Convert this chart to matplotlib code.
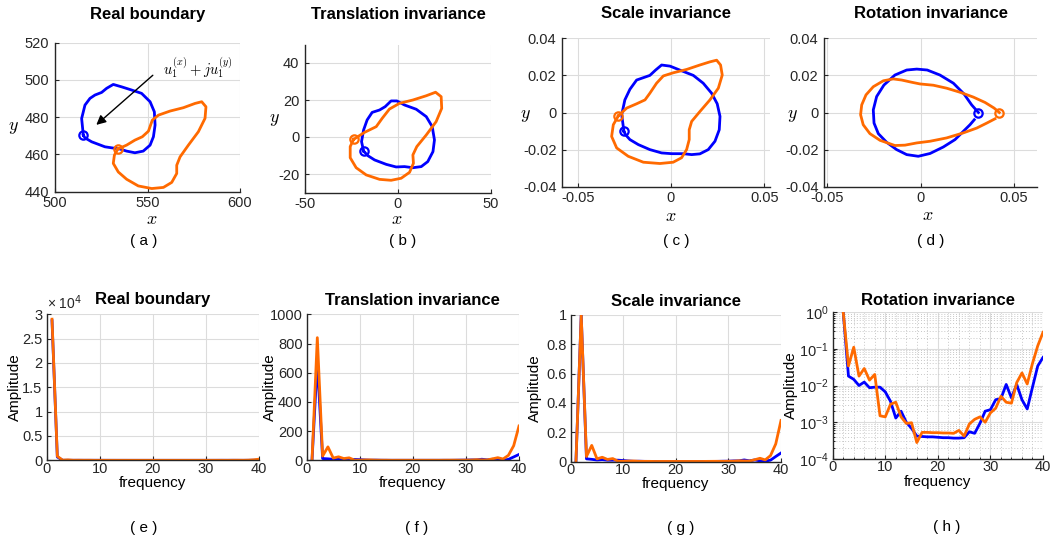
"""
Boundary contours and their Fourier spectra under translation, scale and rotation normalisation
"""

import numpy as np
import matplotlib
matplotlib.use('Agg')
import matplotlib.pyplot as plt
from matplotlib.ticker import FuncFormatter, MultipleLocator, LogLocator, NullFormatter

plt.rcParams['font.family'] = ['Liberation Sans', 'DejaVu Sans']
plt.rcParams['mathtext.fontset'] = 'cm'
plt.rcParams['axes.unicode_minus'] = False

BLUE = '#0000ff'
ORANGE = '#ff6a00'

# ---- contours: real boundary -------------------------------------------------
blue_a_x = [515.3, 514.4, 516.2, 518.9, 521.6, 525.2, 527.9, 531.5, 536.0, 541.4, 546.8, 551.4,
            553.7, 554.1, 553.2, 551.4, 547.7, 543.2, 538.7, 535.1, 527.0, 519.8, 516.2]
blue_a_y = [470.4, 479.3, 486.5, 490.1, 491.9, 493.3, 495.5, 497.6, 496.3, 494.6, 492.8, 488.3,
            482.9, 475.8, 469.5, 465.0, 461.8, 460.9, 461.8, 462.9, 464.1, 466.8, 468.9]
orange_a_x = [533.9, 538.7, 543.2, 547.2, 550.5, 552.6, 555.9, 562.2, 569.4, 575.7, 579.3, 581.6, 581.1,
              577.5, 572.1, 567.6, 565.8, 565.8, 563.1, 558.6, 552.3, 545.0, 538.7, 534.2, 531.5, 532.1]
orange_a_y = [462.9, 465.0, 467.7, 469.5, 472.5, 478.4, 481.1, 483.3, 485.1, 487.4, 488.3, 485.6, 479.4,
              472.2, 465.0, 458.7, 454.2, 449.8, 445.0, 442.3, 441.7, 443.1, 446.7, 450.6, 455.2, 459.6]

# ---- contours: translation invariant ------------------------------------------
blue_b_x = [-18.5, -19.6, -18.5, -16.6, -13.9, -9.9, -6.9, -3.7, -0.6, 3.5, 9.8, 15.2,
            18.4, 19.6, 18.8, 16.0, 12.5, 8.0, 3.5, -1.0, -6.3, -12.6, -16.2]
blue_b_y = [-7.6, -2.5, 3.8, 9.2, 13.3, 14.6, 16.4, 19.5, 19.5, 17.3, 15.0, 11.0,
            5.6, -1.6, -7.9, -13.3, -16.0, -16.6, -16.0, -16.2, -14.8, -12.4, -10.1]
orange_b_x = [-23.9, -18.0, -11.7, -8.5, -4.6, 0.8, 8.0, 15.2, 20.2, 23.2, 23.5, 20.5,
              15.2, 10.1, 8.0, 8.3, 6.2, 1.7, -3.7, -9.9, -17.1, -22.5, -25.7, -25.7]
orange_b_y = [-1.3, 2.5, 5.6, 10.1, 15.1, 18.2, 20.0, 22.3, 24.2, 21.8, 15.5, 8.3,
              1.1, -5.2, -9.7, -14.2, -19.1, -22.3, -23.4, -22.9, -20.5, -16.6, -11.2, -5.2]

# ---- contours: scale invariant --------------------------------------------------
blue_c_x = [-0.0252, -0.0264, -0.0247, -0.0220, -0.0184, -0.0113, -0.0082, -0.0050, -0.0005,
            0.0057, 0.0120, 0.0173, 0.0218, 0.0248, 0.0263, 0.0259, 0.0236, 0.0200, 0.0155,
            0.0111, 0.0066, 0.0004, -0.0050, -0.0113, -0.0175, -0.0220, -0.0243]
blue_c_y = [-0.0102, -0.0012, 0.0068, 0.0125, 0.0175, 0.0200, 0.0229, 0.0256, 0.0250,
            0.0225, 0.0200, 0.0158, 0.0104, 0.0047, -0.0021, -0.0093, -0.0155, -0.0200, -0.0223,
            -0.0227, -0.0222, -0.0222, -0.0218, -0.0200, -0.0173, -0.0146, -0.0120]
orange_c_x = [-0.0282, -0.0237, -0.0184, -0.0139, -0.0113, -0.0077, -0.0041, 0.0012, 0.0084, 0.0155,
              0.0209, 0.0245, 0.0266, 0.0275, 0.0254, 0.0209, 0.0155, 0.0111, 0.0098, 0.0098,
              0.0084, 0.0057, 0.0012, -0.0059, -0.0148, -0.0229, -0.0291, -0.0318, -0.0309]
orange_c_y = [-0.0018, 0.0024, 0.0047, 0.0068, 0.0104, 0.0158, 0.0197, 0.0214, 0.0232, 0.0256,
              0.0273, 0.0282, 0.0256, 0.0202, 0.0131, 0.0068, 0.0005, -0.0048, -0.0093, -0.0146,
              -0.0200, -0.0244, -0.0268, -0.0275, -0.0268, -0.0236, -0.0191, -0.0129, -0.0066]

# ---- contours: rotation invariant (open at the start point) -------------------
blue_d_x = [0.0309, 0.0273, 0.0232, 0.0175, 0.0103, 0.0035, -0.0021, -0.0075, -0.0138, -0.0197,
            -0.0236, -0.0254, -0.0250, -0.0227, -0.0182, -0.0129, -0.0075, -0.0013, 0.0050,
            0.0121, 0.0184, 0.0228, 0.0264, 0.0287]
blue_d_y = [0.0, 0.0041, 0.0100, 0.0158, 0.0202, 0.0229, 0.0234, 0.0229, 0.0202, 0.0148,
            0.0086, 0.0014, -0.0057, -0.0114, -0.0161, -0.0200, -0.0227, -0.0236, -0.0221,
            -0.0186, -0.0146, -0.0102, -0.0066, -0.0039]
orange_d_x = [0.0421, 0.0393, 0.0345, 0.0282, 0.0211, 0.0139, 0.0068, -0.0004, -0.0048, -0.0102,
              -0.0147, -0.0200, -0.0254, -0.0293, -0.0316, -0.0322, -0.0308, -0.0272, -0.0218,
              -0.0138, -0.0084, -0.0021, 0.0050, 0.0139, 0.0228, 0.0300, 0.0354, 0.0398]
orange_d_y = [0.0, 0.0024, 0.0054, 0.0083, 0.0109, 0.0131, 0.0147, 0.0154, 0.0163, 0.0175,
              0.0181, 0.0171, 0.0139, 0.0095, 0.0041, -0.0012, -0.0066, -0.0114, -0.0150,
              -0.0178, -0.0176, -0.0164, -0.0155, -0.0137, -0.0110, -0.0084, -0.0057, -0.0034]

# ---- Fourier amplitudes, frequency 1..40 ----------------------------------------
freq = np.arange(1, 41)
blue_e = [28700, 680, 12, 10, 7, 8.4, 6, 6, 6, 4.5, 2.5, 0.9, 1.4, 0.7, 0.5, 0.3, 0.3, 0.3, 0.3, 0.3,
          0.3, 0.3, 0.3, 0.3, 0.3, 0.4, 0.3, 0.6, 1.4, 1.5, 2.8, 3, 7.3, 3.1, 7.3, 2.8, 1.6, 6.1, 23, 40]
orange_e = [29000, 840, 29, 92, 15, 24, 12, 17, 1.3, 1.2, 2.6, 2.9, 1.2, 0.8, 0.8, 0.2, 0.4, 0.4, 0.4, 0.4,
            0.4, 0.4, 0.4, 0.5, 0.4, 0.8, 1.0, 1.2, 0.8, 1.5, 2.0, 4.3, 2.9, 2.8, 10, 18, 9, 34, 100, 235]
blue_f = [0, 680, 12, 10, 7, 8.4, 6, 6, 6, 4.5, 2.5, 0.9, 1.4, 0.7, 0.5, 0.3, 0.3, 0.3, 0.3, 0.3,
          0.3, 0.3, 0.3, 0.3, 0.3, 0.4, 0.3, 0.6, 1.4, 1.5, 2.8, 3, 7.3, 3.1, 7.3, 2.8, 1.6, 6.1, 23, 40]
orange_f = [0, 840, 29, 92, 15, 24, 12, 17, 1.3, 1.2, 2.6, 2.9, 1.2, 0.8, 0.8, 0.2, 0.4, 0.4, 0.4, 0.4,
            0.4, 0.4, 0.4, 0.5, 0.4, 0.8, 1.0, 1.2, 0.8, 1.5, 2.0, 4.3, 2.9, 2.8, 10, 18, 9, 34, 100, 235]
# normalised amplitudes (same for scale and rotation invariant descriptors)
blue_g = [0, 1, 0.018, 0.0147, 0.010, 0.0124, 0.0087, 0.009, 0.009, 0.0067, 0.0037, 0.0013, 0.002,
          0.001, 0.00068, 0.00042, 0.00041, 0.0004, 0.0004, 0.00039, 0.00038, 0.00038, 0.00037,
          0.00037, 0.00038, 0.00055, 0.0005, 0.00093, 0.002, 0.0022, 0.0041, 0.0044, 0.0107,
          0.0046, 0.0107, 0.0041, 0.0023, 0.009, 0.034, 0.058]
orange_g = [0, 1, 0.034, 0.11, 0.018, 0.029, 0.014, 0.02, 0.0015, 0.0014, 0.0031, 0.0035, 0.0014,
            0.00093, 0.00097, 0.00028, 0.00053, 0.00053, 0.00052, 0.00052, 0.00051, 0.00051, 0.0005,
            0.0006, 0.00042, 0.0009, 0.0012, 0.0014, 0.001, 0.0018, 0.0024, 0.0051, 0.0035, 0.0033,
            0.012, 0.022, 0.011, 0.04, 0.12, 0.28]

W, H = 1053, 545
fig = plt.figure(figsize=(W / 100, H / 100), dpi=100)


def add_ax(left, top, right, bottom):
    return fig.add_axes([left / W, 1 - bottom / H, (right - left) / W, (bottom - top) / H])


def style(ax, title, pad, xpad=3, ypad=4):
    ax.grid(True, color='#dcdcdc', lw=0.8)
    ax.set_axisbelow(True)
    for s in ['top', 'right']:
        ax.spines[s].set_visible(False)
    for s in ['left', 'bottom']:
        ax.spines[s].set_color('#262626')
        ax.spines[s].set_linewidth(1.0)
    ax.tick_params(direction='in', length=3, labelsize=10.5, colors='#262626')
    ax.tick_params(axis='x', pad=xpad)
    ax.tick_params(axis='y', pad=ypad)
    ax.set_title(title, fontsize=12, fontweight='bold', pad=pad)


def contour(ax, xs, ys, color, closed=True):
    xs = list(xs) + ([xs[0]] if closed else [])
    ys = list(ys) + ([ys[0]] if closed else [])
    ax.plot(xs, ys, color=color, lw=2, solid_joinstyle='round')
    ax.plot(xs[0], ys[0], 'o', ms=6, mfc='none', mec=color, mew=1.6)


def xy_labels(ax, xlab_pos, ylab_pos):
    ax.set_xlabel('$x$', fontsize=13, va='center')
    ax.set_ylabel('$y$', fontsize=13, rotation=0, va='center', ha='center')
    ax.xaxis.set_label_coords(*xlab_pos)
    ax.yaxis.set_label_coords(*ylab_pos)


# ---- top row: boundaries ---------------------------------------------------------
ax = add_ax(55, 42.7, 240, 191.7)
style(ax, 'Real boundary', 17)
contour(ax, blue_a_x, blue_a_y, BLUE)
contour(ax, orange_a_x, orange_a_y, ORANGE)
ax.set_xlim(500, 600)
ax.set_ylim(440, 520)
ax.set_xticks([500, 550, 600])
ax.set_yticks([440, 460, 480, 500, 520])
xy_labels(ax, (0.524, -0.185), (-0.227, 0.434))
ax.annotate('', xy=(521.2, 474.9), xytext=(554, 503.5),
            arrowprops=dict(arrowstyle='-|>', color='k', lw=1, mutation_scale=14))
ax.text(558.4, 506.4, r'$u_1^{(x)}+ju_1^{(y)}$', fontsize=10.5, va='center', ha='left', clip_on=False)

ax = add_ax(305, 44.5, 491, 192.5)
style(ax, 'Translation invariance', 18.7)
contour(ax, blue_b_x, blue_b_y, BLUE)
contour(ax, orange_b_x, orange_b_y, ORANGE)
ax.set_xlim(-50, 50)
ax.set_ylim(-30, 50)
ax.set_xticks([-50, 0, 50])
ax.set_yticks([-20, 0, 20, 40])
xy_labels(ax, (0.493, -0.18), (-0.167, 0.49))

ax = add_ax(562, 38.3, 770, 186.7)
style(ax, 'Scale invariance', 14.3)
contour(ax, blue_c_x, blue_c_y, BLUE)
contour(ax, orange_c_x, orange_c_y, ORANGE)
ax.set_xlim(-0.0584, 0.0531)
ax.set_ylim(-0.04, 0.04)
ax.set_xticks([-0.05, 0, 0.05])
ax.set_yticks([-0.04, -0.02, 0, 0.02, 0.04])
ax.xaxis.set_major_formatter(FuncFormatter(lambda v, _: f'{v:g}'))
ax.yaxis.set_major_formatter(FuncFormatter(lambda v, _: f'{v:g}'))
xy_labels(ax, (0.524, -0.2), (-0.178, 0.483))

ax = add_ax(824, 38.3, 1037, 186.7)
style(ax, 'Rotation invariance', 14.3)
contour(ax, blue_d_x, blue_d_y, BLUE, closed=False)
contour(ax, orange_d_x, orange_d_y, ORANGE, closed=False)
ax.set_xlim(-0.0518, 0.0623)
ax.set_ylim(-0.04, 0.04)
ax.set_xticks([-0.05, 0, 0.05])
ax.set_yticks([-0.04, -0.02, 0, 0.02, 0.04])
ax.xaxis.set_major_formatter(FuncFormatter(lambda v, _: f'{v:g}'))
ax.yaxis.set_major_formatter(FuncFormatter(lambda v, _: f'{v:g}'))
xy_labels(ax, (0.487, -0.195), (-0.146, 0.483))

# ---- bottom row: spectra ------------------------------------------------------------
def spectrum(ax, blue, orange, ylab_x):
    ax.plot(freq, blue, color=BLUE, lw=2)
    ax.plot(freq, orange, color=ORANGE, lw=2)
    ax.set_xlim(0, 40)
    ax.set_xticks([0, 10, 20, 30, 40])
    ax.set_xlabel('frequency', fontsize=11, va='center')
    ax.set_ylabel('Amplitude', fontsize=11, va='center')
    ax.xaxis.set_label_coords(0.5, -0.155)
    ax.yaxis.set_label_coords(ylab_x, 0.5)


ax = add_ax(46.7, 314.3, 259, 460.3)
style(ax, 'Real boundary', 7.4, xpad=1, ypad=3)
spectrum(ax, blue_e, orange_e, -0.149)
ax.set_ylim(0, 30000)
ax.set_yticks(np.arange(0, 30001, 5000))
ax.yaxis.set_major_formatter(FuncFormatter(lambda v, _: f'{v / 1e4:g}'))
ax.text(0, 1.015, '× 10$^{4}$', transform=ax.transAxes, fontsize=10, color='#262626',
        ha='left', va='bottom', math_fontfamily='dejavusans')

ax = add_ax(306.7, 314.3, 519, 460.3)
style(ax, 'Translation invariance', 6.7, xpad=1, ypad=3)
spectrum(ax, blue_f, orange_f, -0.173)
ax.set_ylim(0, 1000)
ax.set_yticks(np.arange(0, 1001, 200))

ax = add_ax(570.7, 315, 781, 461.5)
style(ax, 'Scale invariance', 6.8, xpad=1, ypad=3)
spectrum(ax, blue_g, orange_g, -0.17)
ax.set_ylim(0, 1)
ax.set_yticks(np.arange(0, 1.01, 0.2))
ax.yaxis.set_major_formatter(FuncFormatter(lambda v, _: f'{v:g}'))

ax = add_ax(832.7, 312, 1043, 459)
style(ax, 'Rotation invariance', 5, xpad=1, ypad=3)
ax.set_yscale('log', nonpositive='mask')
spectrum(ax, blue_g, orange_g, -0.2)
ax.set_ylim(1e-4, 1)
ax.yaxis.set_major_locator(LogLocator(base=10, numticks=10))
ax.yaxis.set_minor_locator(LogLocator(base=10, subs=np.arange(2, 10), numticks=10))
ax.yaxis.set_minor_formatter(NullFormatter())
ax.xaxis.set_minor_locator(MultipleLocator(2))
ax.grid(True, which='minor', color='#c8c8c8', lw=0.7, ls=(0, (1, 2)))
ax.tick_params(which='minor', direction='in', length=1.5)

# ---- panel letters ------------------------------------------------------------------
for letter, x, y in [('a', 144, 240.7), ('b', 403, 240.7), ('c', 676, 240.7), ('d', 931, 240.7),
                     ('e', 144, 528), ('f', 417, 528), ('g', 681, 528), ('h', 947, 527)]:
    fig.text(x / W, 1 - y / H, f'( {letter} )', ha='center', va='center', fontsize=11)

fig.savefig('out.png', dpi=100)
